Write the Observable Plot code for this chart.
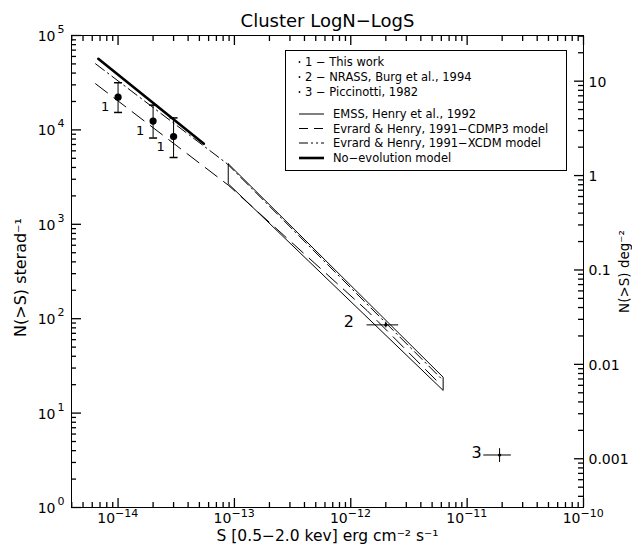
<!DOCTYPE html>
<html><head><meta charset="utf-8">
<script src="https://cdn.jsdelivr.net/npm/d3@7"></script>
<script src="https://cdn.jsdelivr.net/npm/@observablehq/plot@0.6"></script>
<style>
body{margin:0;background:#fff}
#chart{width:632px;height:554px}
</style>
</head><body><div id="chart"></div>
<script>
// ---------- data ----------
const SR_PER_DEG2 = 3282.806;

// "1 - This work"
const thisWorkS  = [1e-14, 2e-14, 3e-14];
const thisWorkN  = [22200, 12400, 8500];
const thisWorkLo = [15300, 8200, 5100];
const thisWorkHi = [31600, 18300, 13400];

// "2 - NRASS, Burg et al., 1994"
const nrassS   = [2e-12];
const nrassN   = [86];
const nrassSLo = [1.38e-12];
const nrassSHi = [2.58e-12];
const nrassNLo = [80];
const nrassNHi = [92];

// "3 - Piccinotti, 1982"
const picS   = [1.9e-11];
const picN   = [3.6];
const picSLo = [1.39e-11];
const picSHi = [2.4e-11];
const picNLo = [3.0];
const picNHi = [4.2];

// EMSS, Henry et al., 1992 (band outline)
const emssS = [8.85e-14, 6.22e-12, 6.22e-12, 8.85e-14, 8.85e-14];
const emssN = [4375, 24.0, 17.4, 2686, 4375];

// Evrard & Henry 1991 - CDMP3 model
const cdmS = [6.41e-15, 8.85e-14, 1.38e-12, 5.89e-12];
const cdmN = [30800, 2600, 122, 20.1];

// Evrard & Henry 1991 - XCDM model
const xcdmS = [6.41e-15, 8.67e-14, 6.10e-12];
const xcdmN = [50100, 4375, 22.7];

// No-evolution model
const noevS = [6.76e-15, 5.46e-14];
const noevN = [56600, 7130];

// axes
const xMajor = [1e-14, 1e-13, 1e-12, 1e-11, 1e-10];
const xMajorExp = ["\u221214", "\u221213", "\u221212", "\u221211", "\u221210"];
const yMajor = [1, 10, 100, 1000, 1e4, 1e5];
const yMajorExp = ["0", "1", "2", "3", "4", "5"];
const degMajor = [10, 1, 0.1, 0.01, 0.001];
const degLabels = ["10", "1", "0.1", "0.01", "0.001"];
const minorMult = [2, 3, 4, 5, 6, 7, 8, 9];
const xDomain = [3.98e-15, 1e-10];
const yDomain = [1, 1e5];

// ---------- layout ----------
const W = 632, H = 554, ML = 71, MR = 49, MT = 35, MB = 47;

// ---------- build ----------
const inX = v => v > xDomain[0] * 1.001 && v < xDomain[1] * 0.999;
const inY = v => v > yDomain[0] * 1.001 && v < yDomain[1] * 0.999;
const xMinor = [];
for (let e = -15; e <= -11; e++) for (const m of minorMult) { const v = m * Math.pow(10, e); if (inX(v)) xMinor.push(v); }
const yMinor = [];
for (let e = 0; e <= 4; e++) for (const m of minorMult) yMinor.push(m * Math.pow(10, e));
const degMinor = [];
for (let e = -4; e <= 1; e++) for (const m of minorMult) { const v = m * Math.pow(10, e) * SR_PER_DEG2; if (inY(v)) degMinor.push(v); }
const degMajorSr = degMajor.map(d => d * SR_PER_DEG2);

const thisWork = thisWorkS.map((s, i) => ({S: s, N: thisWorkN[i], lo: thisWorkLo[i], hi: thisWorkHi[i]}));
const nrass = nrassS.map((s, i) => ({S: s, N: nrassN[i], slo: nrassSLo[i], shi: nrassSHi[i], lo: nrassNLo[i], hi: nrassNHi[i]}));
const pic = picS.map((s, i) => ({S: s, N: picN[i], slo: picSLo[i], shi: picSHi[i], lo: picNLo[i], hi: picNHi[i]}));
const emss = emssS.map((s, i) => ({S: s, N: emssN[i]}));
const cdm = cdmS.map((s, i) => ({S: s, N: cdmN[i]}));
const xcdm = xcdmS.map((s, i) => ({S: s, N: xcdmN[i]}));
const noev = noevS.map((s, i) => ({S: s, N: noevN[i]}));

const capSymbol = {draw(ctx, size) { const r = Math.sqrt(size / Math.PI); ctx.moveTo(-r, 0); ctx.lineTo(r, 0); }};
const blank = () => "";
// inward ticks (negative tickSize)
function ticks(values, side, len) {
  const axis = (side === "bottom" || side === "top") ? Plot.axisX : Plot.axisY;
  return axis({anchor: side, ticks: values, tickSize: -len, tickFormat: blank, label: null,
    stroke: "#000", strokeWidth: 1.3});
}
const FONT = "DejaVu Sans";
const DASH_CDM = "15,8";
const DASH_XCDM = "11,4,1.5,4";

const chart = Plot.plot({
  width: W, height: H,
  marginLeft: ML, marginRight: MR, marginTop: MT, marginBottom: MB,
  style: {fontFamily: FONT, background: "#fff", color: "#000"},
  x: {type: "log", domain: xDomain},
  y: {type: "log", domain: yDomain},
  marks: [
    Plot.frame({stroke: "#000", strokeWidth: 1}),
    ticks(xMajor, "bottom", 9), ticks(xMinor, "bottom", 5),
    ticks(xMajor, "top", 9), ticks(xMinor, "top", 5),
    ticks(yMajor, "left", 10), ticks(yMinor, "left", 5),
    ticks(degMajorSr, "right", 10), ticks(degMinor, "right", 6),
    // tick labels
    Plot.text(xMajor, {x: d => d, frameAnchor: "bottom", text: () => "10", textAnchor: "end", dx: -3, dy: 15, fontSize: 14}),
    Plot.text(xMajor, {x: d => d, frameAnchor: "bottom", text: (d, i) => xMajorExp[i], textAnchor: "start", dx: -3, dy: 9, fontSize: 11}),
    Plot.text(yMajor, {y: d => d, frameAnchor: "left", text: () => "10", textAnchor: "end", dx: -16, dy: 1, fontSize: 14}),
    Plot.text(yMajor, {y: d => d, frameAnchor: "left", text: (d, i) => yMajorExp[i], textAnchor: "start", dx: -14, dy: -6, fontSize: 11}),
    Plot.text(degMajorSr, {y: d => d, frameAnchor: "right", text: (d, i) => degLabels[i], textAnchor: "start", dx: 5, dy: 1, fontSize: 14}),
    // titles
    Plot.text(["Cluster LogN\u2212LogS"], {text: d => d, frameAnchor: "top", textAnchor: "middle", dy: -21, fontSize: 18, letterSpacing: "0.9px"}),
    Plot.text(["S [0.5\u22122.0 kev] erg cm\u207B\u00B2 s\u207B\u00B9"], {text: d => d, frameAnchor: "bottom", textAnchor: "middle", dy: 33, fontSize: 15.5, letterSpacing: "1.3px"}),
    Plot.text(["N(>S) sterad\u207B\u00B9"], {text: d => d, frameAnchor: "left", textAnchor: "middle", rotate: -90, dx: -51, dy: 6, fontSize: 16, letterSpacing: "2px"}),
    Plot.text(["N(>S) deg\u207B\u00B2"], {text: d => d, frameAnchor: "right", textAnchor: "middle", rotate: -90, dx: 41, dy: 0, fontSize: 13.5, letterSpacing: "0.8px"}),
    // models
    Plot.line(emss, {x: "S", y: "N", stroke: "#000", strokeWidth: 1}),
    Plot.line(cdm, {x: "S", y: "N", stroke: "#000", strokeWidth: 1, strokeDasharray: DASH_CDM}),
    Plot.line(xcdm, {x: "S", y: "N", stroke: "#000", strokeWidth: 1, strokeDasharray: DASH_XCDM}),
    Plot.line(noev, {x: "S", y: "N", stroke: "#000", strokeWidth: 2.6}),
    // data 1
    Plot.ruleX(thisWork, {x: "S", y1: "lo", y2: "hi", stroke: "#000"}),
    Plot.dot(thisWork, {x: "S", y: "lo", symbol: capSymbol, r: 4, stroke: "#000", fill: "none"}),
    Plot.dot(thisWork, {x: "S", y: "hi", symbol: capSymbol, r: 4, stroke: "#000", fill: "none"}),
    Plot.dot(thisWork, {x: "S", y: "N", r: 3.6, fill: "#000", stroke: "none"}),
    Plot.text(thisWork, {x: "S", y: "N", text: () => "1", dx: -13, dy: 10, fontSize: 13}),
    // data 2
    Plot.ruleY(nrass, {y: "N", x1: "slo", x2: "shi", stroke: "#000"}),
    Plot.ruleX(nrass, {x: "S", y1: "lo", y2: "hi", stroke: "#000"}),
    Plot.dot(nrass, {x: "S", y: "N", r: 1.6, fill: "#000", stroke: "none"}),
    Plot.text(nrass, {x: "S", y: "N", text: () => "2", dx: -37, dy: -3, fontSize: 16}),
    // data 3
    Plot.ruleY(pic, {y: "N", x1: "slo", x2: "shi", stroke: "#000"}),
    Plot.ruleX(pic, {x: "S", y1: "lo", y2: "hi", stroke: "#000"}),
    Plot.dot(pic, {x: "S", y: "N", r: 1.6, fill: "#000", stroke: "none"}),
    Plot.text(pic, {x: "S", y: "N", text: () => "3", dx: -23, dy: -2, fontSize: 16})
  ]
});
document.getElementById("chart").appendChild(chart);

// ---------- legend ----------
const svg = d3.select(chart);
const lg = svg.append("g").attr("font-family", FONT).attr("font-size", 11.5).attr("text-anchor", "start");
lg.append("rect").attr("x", 285.5).attr("y", 50.5).attr("width", 281).attr("height", 120)
  .attr("fill", "#fff").attr("stroke", "#000");
const legendRows = [
  {kind: "dot", label: "1 \u2212 This work"},
  {kind: "dot", label: "2 \u2212 NRASS, Burg et al., 1994"},
  {kind: "dot", label: "3 \u2212 Piccinotti, 1982"},
  {kind: "line", dash: null, w: 1, label: "EMSS, Henry et al., 1992"},
  {kind: "line", dash: "9,6", w: 1, label: "Evrard & Henry, 1991\u2212CDMP3 model"},
  {kind: "line", dash: "9,3,2,3,2,3", w: 1, label: "Evrard & Henry, 1991\u2212XCDM model"},
  {kind: "line", dash: null, w: 2.6, label: "No\u2212evolution model"}
];
const rowY = [62, 77, 92, 114, 128.5, 143, 158];
legendRows.forEach((r, i) => {
  const y = rowY[i];
  if (r.kind === "dot") {
    lg.append("circle").attr("cx", 299.5).attr("cy", y).attr("r", 0.9).attr("fill", "#000");
    lg.append("text").attr("x", 305).attr("y", y).attr("dy", "0.35em").text(r.label);
  } else {
    lg.append("line").attr("x1", 299).attr("x2", 324).attr("y1", y).attr("y2", y)
      .attr("stroke", "#000").attr("stroke-width", r.w).attr("stroke-dasharray", r.dash);
    lg.append("text").attr("x", 333).attr("y", y).attr("dy", "0.35em").text(r.label);
  }
});
</script>
</body></html>
